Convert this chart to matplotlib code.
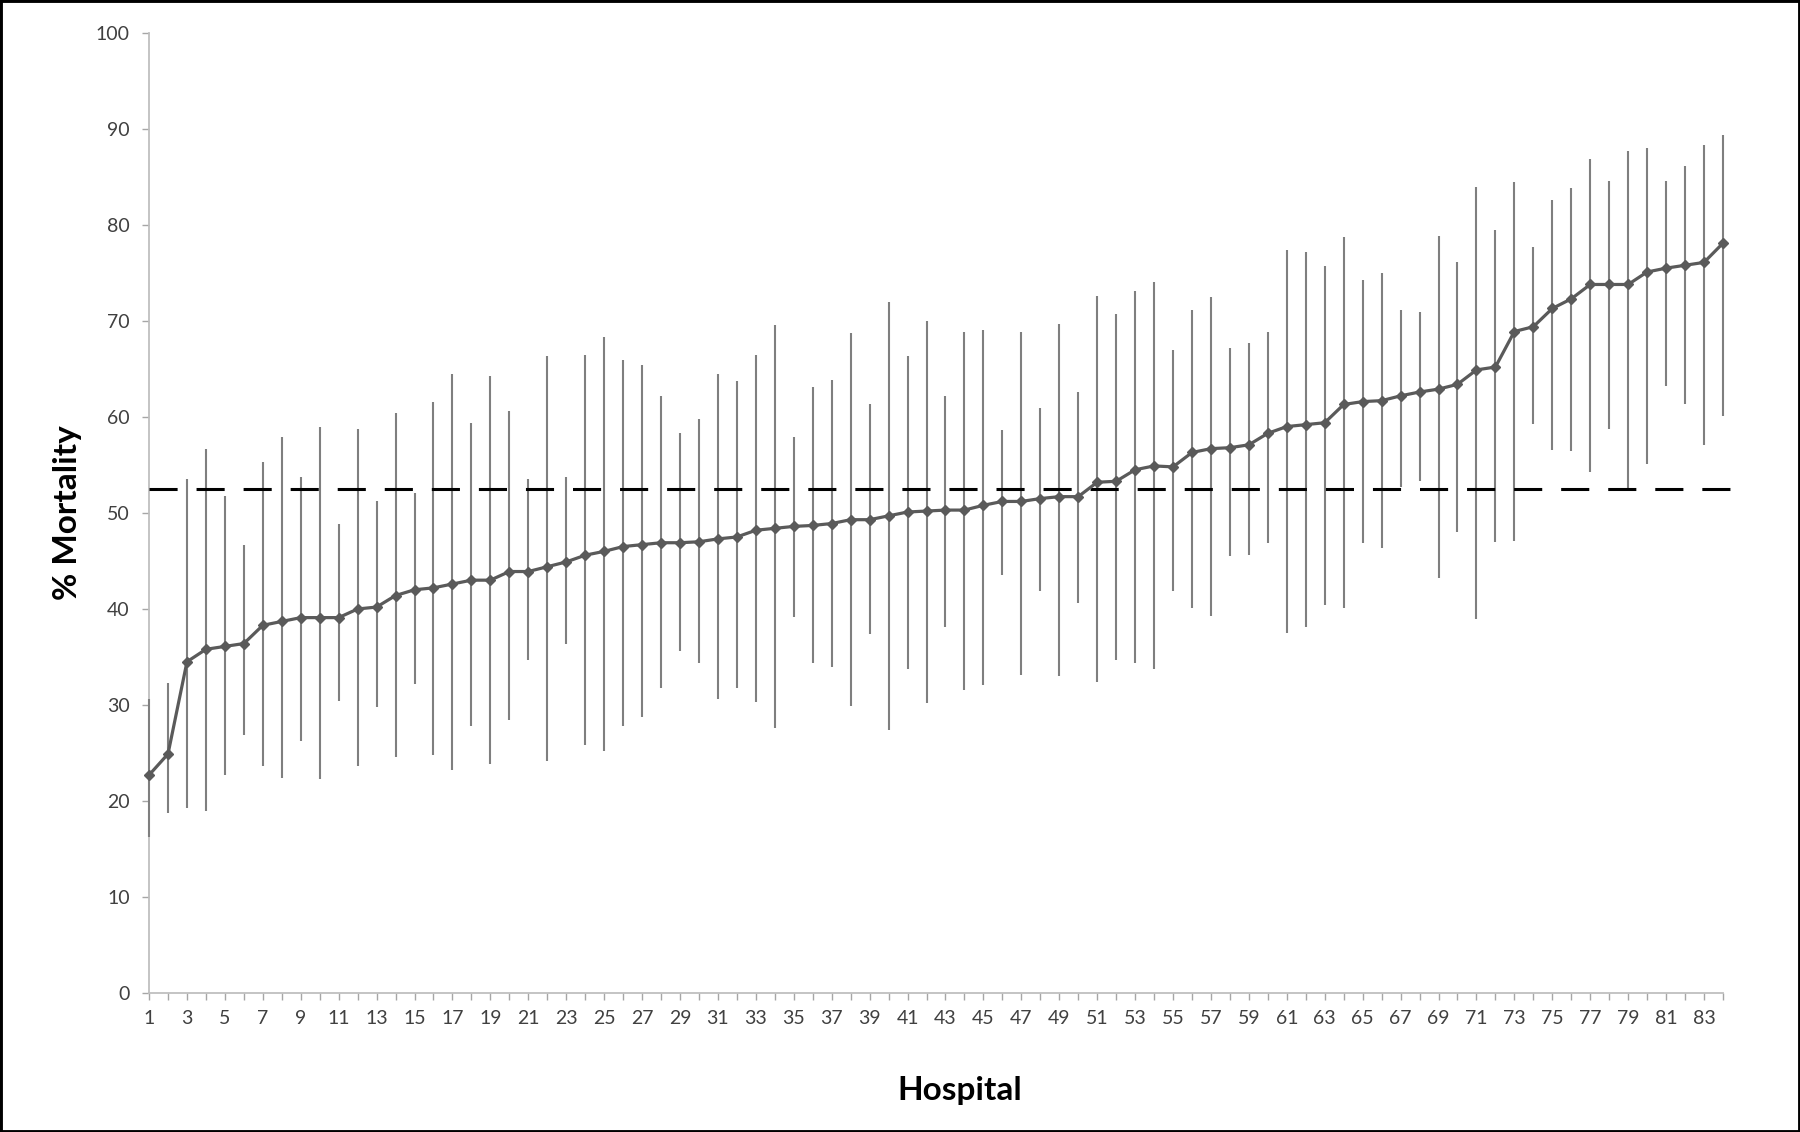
import numpy as np
import matplotlib
matplotlib.use("Agg")
import matplotlib.pyplot as plt
from matplotlib.patches import Rectangle

plt.rcParams["font.family"] = ["Lato", "DejaVu Sans"]

# hospital ids (ranked by mortality)
hospitals = list(range(1, 85))

# % mortality point estimates
mortality = [
    22.7, 24.9, 34.5, 35.8, 36.1, 36.4, 38.3, 38.7, 39.1, 39.1,
    39.1, 40.0, 40.2, 41.4, 42.0, 42.2, 42.6, 43.0, 43.0, 43.9,
    43.9, 44.4, 44.9, 45.6, 46.0, 46.5, 46.7, 46.9, 46.9, 47.0,
    47.3, 47.5, 48.2, 48.4, 48.6, 48.7, 48.9, 49.3, 49.3, 49.7,
    50.1, 50.2, 50.3, 50.3, 50.8, 51.2, 51.2, 51.5, 51.7, 51.7,
    53.2, 53.3, 54.5, 54.9, 54.8, 56.3, 56.7, 56.8, 57.1, 58.3,
    59.0, 59.2, 59.4, 61.3, 61.6, 61.7, 62.2, 62.6, 62.9, 63.4,
    64.9, 65.2, 68.9, 69.4, 71.3, 72.3, 73.8, 73.8, 73.8, 75.1,
    75.5, 75.8, 76.1, 78.1,
]

# confidence interval bounds
upper = [
    30.6, 32.3, 53.5, 56.7, 51.8, 46.7, 55.3, 57.9, 53.7, 59.0,
    48.8, 58.7, 51.2, 60.4, 52.1, 61.6, 64.5, 59.4, 64.3, 60.6,
    53.5, 66.3, 53.7, 66.5, 68.3, 65.9, 65.4, 62.2, 58.3, 59.8,
    64.5, 63.7, 66.5, 69.6, 57.9, 63.1, 63.9, 68.7, 61.3, 72.0,
    66.4, 70.0, 62.2, 68.8, 69.1, 58.6, 68.8, 60.9, 69.7, 62.6,
    72.6, 70.7, 73.1, 74.1, 67.0, 71.1, 72.5, 67.2, 67.7, 68.8,
    77.4, 77.2, 75.7, 78.7, 74.3, 75.0, 71.1, 70.9, 78.9, 76.1,
    84.0, 79.5, 84.5, 77.7, 82.6, 83.9, 86.9, 84.6, 87.7, 88.0,
    84.6, 86.1, 88.3, 89.4,
]
lower = [
    16.2, 18.7, 19.3, 19.0, 22.7, 26.9, 23.6, 22.4, 26.2, 22.3,
    30.4, 23.6, 29.8, 24.6, 32.2, 24.8, 23.2, 27.8, 23.9, 28.4,
    34.7, 24.2, 36.3, 25.8, 25.2, 27.8, 28.7, 31.8, 35.6, 34.4,
    30.6, 31.8, 30.3, 27.6, 39.2, 34.4, 34.0, 29.9, 37.4, 27.4,
    33.7, 30.2, 38.1, 31.6, 32.1, 43.5, 33.1, 41.9, 33.0, 40.6,
    32.4, 34.7, 34.4, 33.7, 41.9, 40.1, 39.3, 45.5, 45.6, 46.9,
    37.5, 38.1, 40.4, 40.1, 46.9, 46.3, 52.7, 53.3, 43.2, 48.0,
    39.0, 47.0, 47.1, 59.3, 56.6, 56.5, 54.3, 58.7, 52.5, 55.1,
    63.2, 61.3, 57.1, 60.1,
]

overall_mortality = 52.5

fig = plt.figure(figsize=(18, 11.32), dpi=100)
ax = fig.add_axes([0.0828, 0.1228, 0.8744, 0.8481])

ax.vlines(hospitals, lower, upper, color="#7f7f7f", linewidth=1.5, zorder=3,
          clip_on=False)
ax.axhline(overall_mortality, xmin=0, xmax=1.009, color="black", linewidth=2.2,
           linestyle=(0, (9.2, 6.2)), clip_on=False, zorder=3.5)
ax.plot(hospitals, mortality, color="#5a5a5a", linewidth=2.3, marker="D",
        markersize=5.5, zorder=4, clip_on=False)

ax.set_xlim(1, 84)
ax.set_ylim(0, 100)
ax.set_yticks(np.arange(0, 101, 10))
ax.set_xticks(hospitals)
ax.set_xticklabels([str(h) if h % 2 == 1 else "" for h in hospitals])

for side in ["top", "right"]:
    ax.spines[side].set_visible(False)
for side in ["left", "bottom"]:
    ax.spines[side].set_color("#bfbfbf")
    ax.spines[side].set_linewidth(1.3)

ax.tick_params(axis="both", colors="#a6a6a6", labelcolor="#404040",
               labelsize=14, length=5, width=1)
ax.tick_params(axis="y", pad=9)
ax.tick_params(axis="x", pad=7)

ax.set_ylabel("% Mortality", fontsize=24, fontweight="bold", color="black")
ax.yaxis.set_label_coords(-0.0425, 0.5)
ax.set_xlabel("Hospital", fontsize=24, fontweight="bold", color="black")
ax.xaxis.set_label_coords(0.515, -0.086)

fig.patches.append(Rectangle((0, 0), 1, 1, transform=fig.transFigure, fill=False,
                             edgecolor="black", linewidth=3.5))

fig.savefig("out.png", dpi=100)
